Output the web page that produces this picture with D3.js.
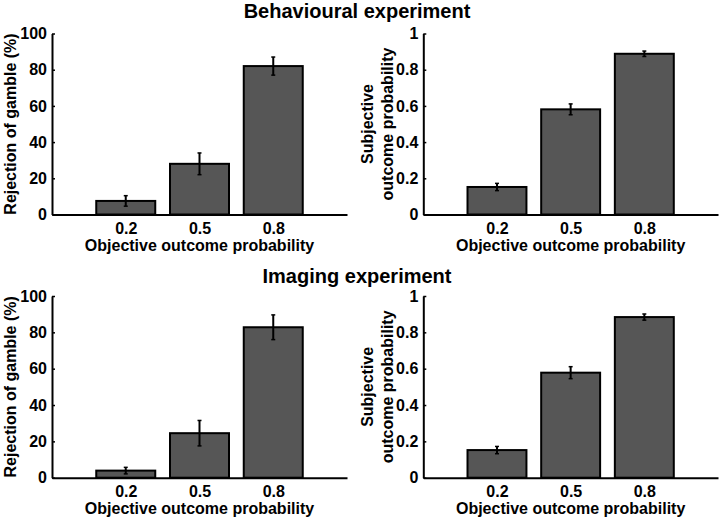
<!DOCTYPE html>
<html><head><meta charset="utf-8">
<script src="https://cdn.jsdelivr.net/npm/d3@7"></script>
<style>body{margin:0;background:#fff}svg{display:block}text{font-family:"Liberation Sans",Arial,sans-serif;font-weight:bold;fill:#000}</style>
</head><body>
<svg id="chart" width="720" height="518"></svg>
<script>
const categories = ["0.2", "0.5", "0.8"];
const behavRejection = [7.5, 28, 82];
const behavRejectionErr = [2.9, 6, 5];
const behavSubjective = [0.152, 0.581, 0.888];
const behavSubjectiveErr = [0.02, 0.03, 0.015];
const imagRejection = [3.9, 24.5, 82.8];
const imagRejectionErr = [1.8, 7, 6.8];
const imagSubjective = [0.152, 0.578, 0.884];
const imagSubjectiveErr = [0.02, 0.033, 0.017];
const rejTicks = [0, 20, 40, 60, 80, 100];
const subjTicks = [0, 0.2, 0.4, 0.6, 0.8, 1];
const titles = ["Behavioural experiment", "Imaging experiment"];
const xLabel = "Objective outcome probability";
const rejLabel = ["Rejection of gamble (%)"];
const subjLabel = ["Subjective", "outcome probability"];

const svg = d3.select("#chart");

function panel(opts) {
  const {x0, x1, yTop, yZero, values, errs, ymax, ticks, fmt, ylabel, ylabelX} = opts;
  const g = svg.append("g");
  const x = d3.scaleLinear().domain([0, 4]).range([x0, x1]);
  const y = d3.scaleLinear().domain([0, ymax]).range([yZero, yTop]);
  const bw = x(0.8) - x(0);
  g.selectAll("rect.bar").data(values).join("rect")
    .attr("x", (d, i) => x(i + 1) - bw / 2)
    .attr("width", bw)
    .attr("y", d => y(d))
    .attr("height", d => y(0) - y(d))
    .attr("fill", "#565656")
    .attr("stroke", "#000")
    .attr("stroke-width", 2);
  const eb = g.selectAll("g.err").data(values).join("g");
  eb.append("line")
    .attr("x1", (d, i) => x(i + 1)).attr("x2", (d, i) => x(i + 1))
    .attr("y1", (d, i) => y(d - errs[i])).attr("y2", (d, i) => y(d + errs[i]))
    .attr("stroke", "#000").attr("stroke-width", 2);
  [-1, 1].forEach(s => {
    eb.append("line")
      .attr("x1", (d, i) => x(i + 1) - 2).attr("x2", (d, i) => x(i + 1) + 2)
      .attr("y1", (d, i) => y(d + s * errs[i])).attr("y2", (d, i) => y(d + s * errs[i]))
      .attr("stroke", "#000").attr("stroke-width", 1.5);
  });
  const ya = g.append("g").attr("transform", `translate(${x0},0)`)
    .call(d3.axisLeft(y).tickValues(ticks).tickFormat(fmt).tickSizeInner(-3).tickSizeOuter(0).tickPadding(5));
  ya.select(".domain").attr("stroke-width", 2);
  ya.selectAll(".tick line").attr("stroke-width", 1.5);
  ya.selectAll(".tick text").attr("font-size", 16).attr("fill", "#000");
  const xa = g.append("g").attr("transform", `translate(0,${yZero})`)
    .call(d3.axisBottom(x).tickValues([1, 2, 3]).tickFormat((d) => categories[d - 1]).tickSize(0).tickPadding(8));
  xa.select(".domain").attr("stroke-width", 2);
  xa.selectAll(".tick text").attr("font-size", 16).attr("fill", "#000");
  g.append("text").attr("x", (x0 + x1) / 2).attr("y", yZero + 36)
    .attr("text-anchor", "middle").attr("font-size", 16).text(xLabel);
  const yc = (yTop + yZero) / 2;
  ylabel.forEach((t, k) => {
    g.append("text")
      .attr("transform", `translate(${ylabelX[k]},${yc}) rotate(-90)`)
      .attr("text-anchor", "middle").attr("dominant-baseline", "central")
      .attr("font-size", 16).text(t);
  });
}

const fmtRej = d => d3.format("d")(d);
const fmtSubj = d => (d === 0 || d === 1) ? String(d) : d3.format(".1f")(d);

const rows = [
  {yTop: 33.5, yZero: 214.5, titleY: 18, rej: behavRejection, rejE: behavRejectionErr, sub: behavSubjective, subE: behavSubjectiveErr},
  {yTop: 296, yZero: 477.7, titleY: 283, rej: imagRejection, rejE: imagRejectionErr, sub: imagSubjective, subE: imagSubjectiveErr}
];
rows.forEach((r, k) => {
  svg.append("text").attr("x", 357).attr("y", r.titleY).attr("text-anchor", "middle")
    .attr("font-size", 20).text(titles[k]);
  panel({x0: 52, x1: 347, yTop: r.yTop, yZero: r.yZero, values: r.rej, errs: r.rejE, ymax: 100,
    ticks: rejTicks, fmt: fmtRej, ylabel: rejLabel, ylabelX: [10]});
  panel({x0: 423.3, x1: 718, yTop: r.yTop, yZero: r.yZero, values: r.sub, errs: r.subE, ymax: 1,
    ticks: subjTicks, fmt: fmtSubj, ylabel: subjLabel, ylabelX: [367, 387]});
});
</script>
</body></html>
